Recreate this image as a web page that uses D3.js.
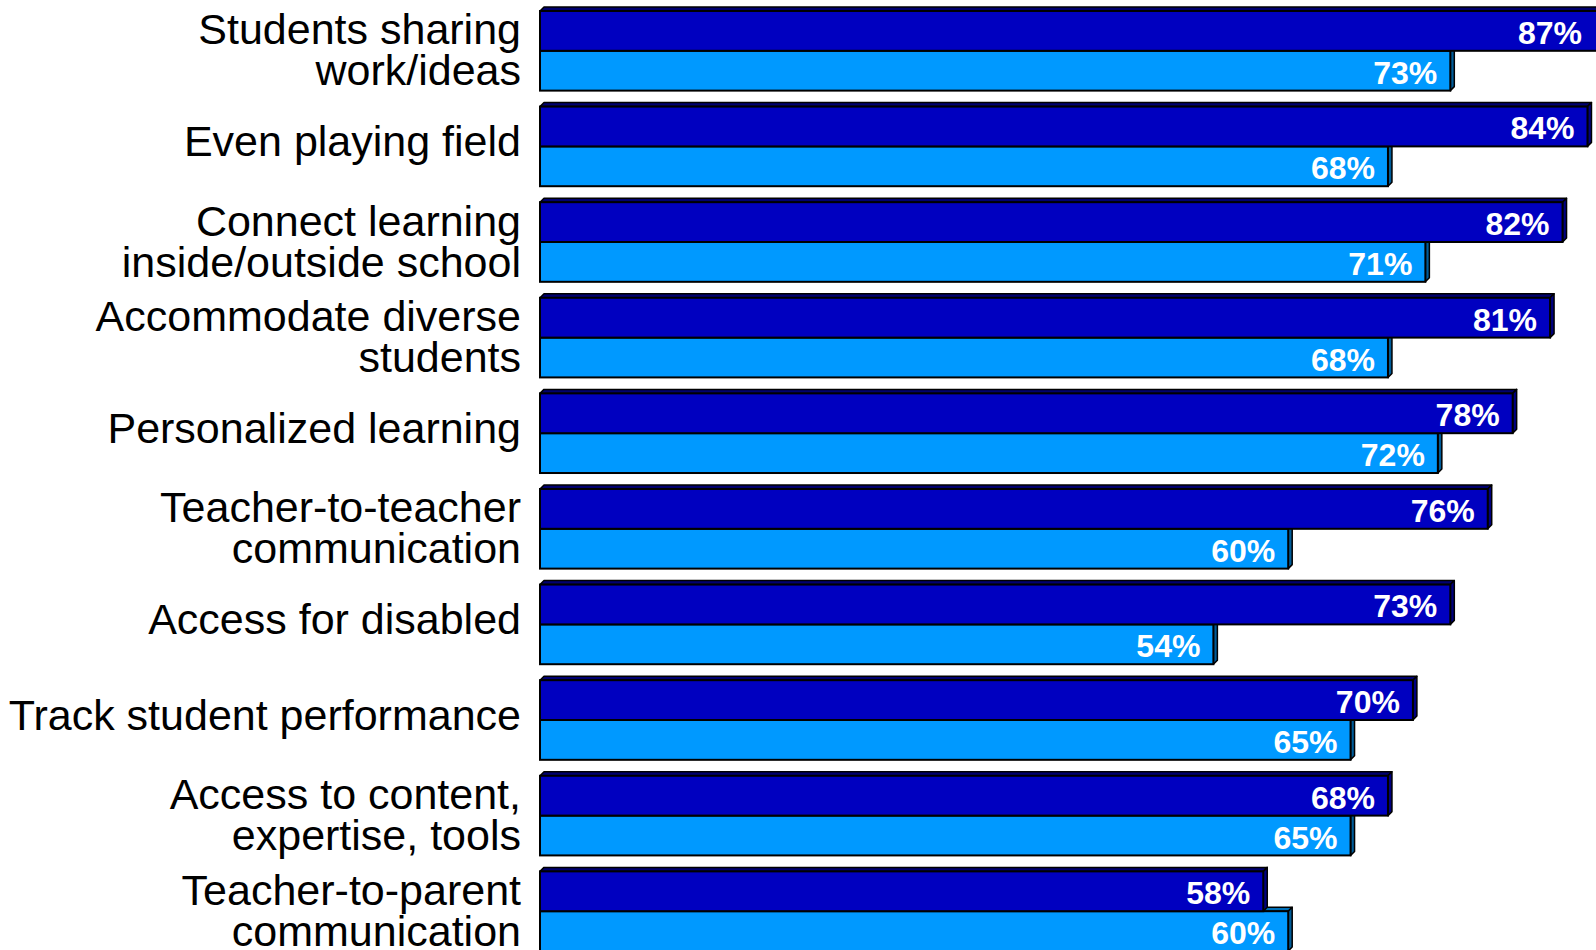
<!DOCTYPE html>
<html>
<head>
<meta charset="utf-8">
<script src="https://cdn.jsdelivr.net/npm/d3@7"></script>
<style>
  html, body { margin: 0; padding: 0; background: #ffffff; }
  svg { display: block; }
</style>
</head>
<body>
<svg id="chart" width="1596" height="950"></svg>
<script>
// ---- data ----
const categories = [
  "Students sharing\nwork/ideas",
  "Even playing field",
  "Connect learning\ninside/outside school",
  "Accommodate diverse\nstudents",
  "Personalized learning",
  "Teacher-to-teacher\ncommunication",
  "Access for disabled",
  "Track student performance",
  "Access to content,\nexpertise, tools",
  "Teacher-to-parent\ncommunication"
];
const seriesNames = ["Series 1", "Series 2"];
const series1Values = [87, 84, 82, 81, 78, 76, 73, 70, 68, 58];
const series2Values = [73, 68, 71, 68, 72, 60, 54, 65, 65, 60];

// ---- styles ----
const frontColors = ["#0000C0", "#0099FF"];
const topColors   = ["#000070", "#0070B8"];
const sideColors  = ["#000080", "#005C99"];
const depth = 4;
const W = 1596;
const labelX = 521;

const svg = d3.select("#chart");

const x = d3.scaleLinear().domain([0, 100]).range([540, 540 + 1247]);
const y = d3.scaleBand().domain(categories).range([3, 959])
  .paddingInner(0.167).paddingOuter(0.0835);
const ys = d3.scaleBand().domain(seriesNames).range([0, y.bandwidth()]);

const rows = categories.map((c, i) => ({
  cat: c,
  vals: [series1Values[i], series2Values[i]]
}));

// category labels
const labelG = svg.append("g");
rows.forEach(r => {
  const lines = r.cat.split("\n");
  const cy = y(r.cat) + y.bandwidth() / 2;
  const t = labelG.append("text")
    .attr("x", labelX)
    .attr("text-anchor", "end")
    .attr("font-family", "Liberation Sans, Arial, sans-serif")
    .attr("font-size", 43)
    .attr("fill", "#000");
  if (lines.length === 1) {
    t.append("tspan").attr("x", labelX).attr("y", cy + 9.5).text(lines[0]);
  } else {
    t.append("tspan").attr("x", labelX).attr("y", cy + 14 - 20.5).text(lines[0]);
    t.append("tspan").attr("x", labelX).attr("y", cy + 14 + 20.5).text(lines[1]);
  }
});

// bars (draw second series first so the first series covers its top face)
const barG = svg.append("g");
rows.forEach(r => {
  [1, 0].forEach(si => {
    const v = r.vals[si];
    const x0 = x(0), x1 = x(v);
    const y0 = y(r.cat) + ys(seriesNames[si]);
    const y1 = y0 + ys.bandwidth();
    const g = barG.append("g");
    g.append("path")
      .attr("d", `M${x0},${y0}L${x0 + depth},${y0 - depth}L${x1 + depth},${y0 - depth}L${x1},${y0}Z`)
      .attr("fill", topColors[si]).attr("stroke", "#000").attr("stroke-width", 1.5)
      .attr("stroke-linejoin", "round");
    g.append("path")
      .attr("d", `M${x1},${y0}L${x1 + depth},${y0 - depth}L${x1 + depth},${y1 - depth}L${x1},${y1}Z`)
      .attr("fill", sideColors[si]).attr("stroke", "#000").attr("stroke-width", 1.5)
      .attr("stroke-linejoin", "round");
    g.append("rect")
      .attr("x", x0).attr("y", y0)
      .attr("width", x1 - x0).attr("height", y1 - y0)
      .attr("fill", frontColors[si]).attr("stroke", "#000").attr("stroke-width", 2);
  });
});

// value labels (kept inside the visible area when a bar runs off the edge)
const valG = svg.append("g");
rows.forEach(r => {
  [0, 1].forEach(si => {
    const v = r.vals[si];
    const y0 = y(r.cat) + ys(seriesNames[si]);
    valG.append("text")
      .attr("x", Math.min(x(v) - 13, W - 14))
      .attr("y", y0 + ys.bandwidth() / 2 + 13)
      .attr("text-anchor", "end")
      .attr("font-family", "Liberation Sans, Arial, sans-serif")
      .attr("font-weight", "bold")
      .attr("font-size", 32)
      .attr("fill", "#ffffff")
      .text(v + "%");
  });
});
</script>
</body>
</html>
